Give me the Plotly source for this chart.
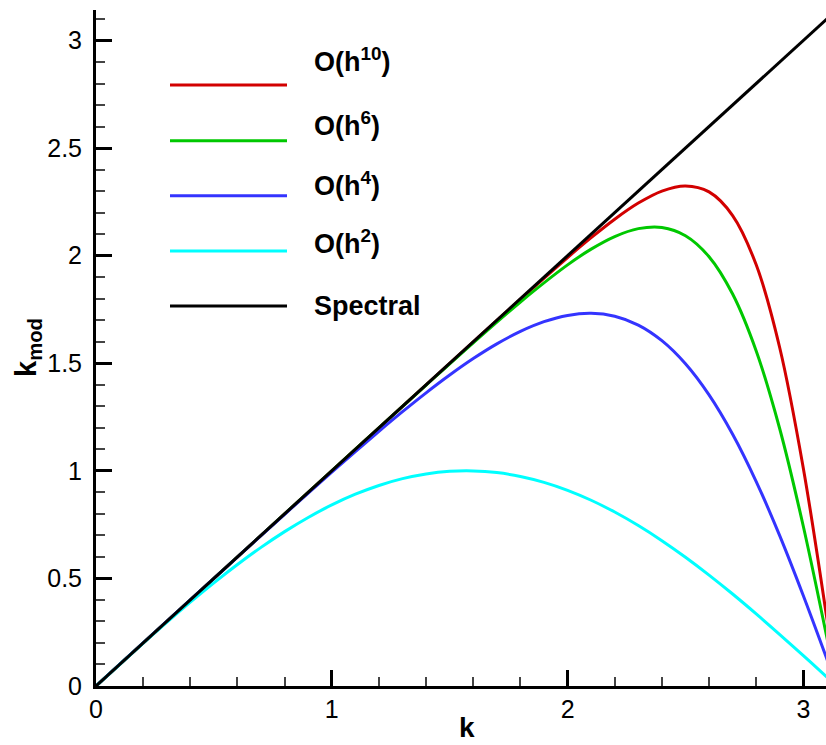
import plotly.graph_objects as go

# ---------------- data ----------------
k_fine = [0.0, 0.1, 0.2, 0.3, 0.4, 0.5, 0.6, 0.7, 0.8, 0.9, 1.0, 1.1, 1.2, 1.3, 1.4,
          1.5, 1.6, 1.7, 1.8, 1.9, 2.0, 2.1, 2.2, 2.3, 2.4, 2.5, 2.6, 2.7, 2.8, 2.9,
          3.0, 3.1, 3.1416]
kmod_h2 = [0.0, 0.0998, 0.1987, 0.2955, 0.3894, 0.4794, 0.5646, 0.6442, 0.7174, 0.7833,
           0.8415, 0.8912, 0.9320, 0.9636, 0.9854, 0.9975, 0.9996, 0.9917, 0.9738, 0.9463,
           0.9093, 0.8632, 0.8085, 0.7457, 0.6755, 0.5985, 0.5155, 0.4274, 0.3350, 0.2392,
           0.1411, 0.0416, 0.0]
kmod_h4 = [0.0, 0.1000, 0.2000, 0.3000, 0.4000, 0.4998, 0.5995, 0.6990, 0.7980, 0.8964,
           0.9937, 1.0897, 1.1836, 1.2748, 1.3624, 1.4451, 1.5216, 1.5899, 1.6480, 1.6931,
           1.7223, 1.7320, 1.7184, 1.6774, 1.6049, 1.4976, 1.3529, 1.1699, 0.9501, 0.6975,
           0.4192, 0.1246, 0.0]

k_hi = [0.0, 0.5, 1.0, 1.2, 1.4, 1.6, 1.8, 2.0, 2.1, 2.2, 2.3, 2.4, 2.5, 2.6, 2.7, 2.8,
        2.9, 3.0, 3.1, 3.1416]
kmod_h6 = [0.0, 0.5, 0.9999, 1.1997, 1.3986, 1.5951, 1.7847, 1.9571, 2.0303, 2.0887,
           2.1255, 2.1310, 2.0928, 1.9952, 1.8216, 1.5570, 1.1944, 0.7411, 0.2240, 0.0]
kmod_h10 = [0.0, 0.5, 1.0, 1.2, 1.3999, 1.5995, 1.7977, 1.9913, 2.0835, 2.1694,
            2.2443, 2.3002, 2.3242, 2.2962, 2.1865, 1.9573, 1.5709, 1.0113, 0.3119, 0.0]

k_spec = [0.0, 3.1416]
kmod_spec = [0.0, 3.1416]

series_names = ["O(h<sup>10</sup>)", "O(h<sup>6</sup>)", "O(h<sup>4</sup>)",
                "O(h<sup>2</sup>)", "Spectral"]
series_colors = ["#d20000", "#00c800", "#3434ff", "#00ffff", "#000000"]
series_x = [k_hi, k_hi, k_fine, k_fine, k_spec]
series_y = [kmod_h10, kmod_h6, kmod_h4, kmod_h2, kmod_spec]

x_ticks = [0, 1, 2, 3]
y_ticks = [0, 0.5, 1, 1.5, 2, 2.5, 3]
y_ticklabels = ["0", "0.5", "1", "1.5", "2", "2.5", "3"]

# ---------------- figure ----------------
W, H = 826, 745
L, R, T, B = 96, 0, 10, 59
PW, PH = W - L - R, H - T - B
FONT = "Liberation Sans, Arial, Helvetica, sans-serif"


def px(xpix):
    """screen pixel x -> paper fraction"""
    return (xpix - L) / PW


def py(ypix):
    """screen pixel y -> paper fraction"""
    return (H - B - ypix) / PH


fig = go.Figure()
for name, col, xs, ys in zip(series_names, series_colors, series_x, series_y):
    fig.add_trace(go.Scatter(
        x=xs, y=ys, mode="lines", name=name,
        line=dict(color=col, width=3, shape="spline" if name != "Spectral" else "linear"),
        showlegend=False, hoverinfo="skip"))

# hand-made legend (lines + labels)
line_y = [85, 140.7, 195.7, 251, 306]
text_y = [60, 124, 184, 242, 306]
shapes = []
annotations = []
for name, col, ly, ty in zip(series_names, series_colors, line_y, text_y):
    shapes.append(dict(type="line", xref="paper", yref="paper",
                       x0=px(170), x1=px(287), y0=py(ly), y1=py(ly),
                       line=dict(color=col, width=3)))
    annotations.append(dict(xref="paper", yref="paper", x=px(312), y=py(ty),
                            xanchor="left", yanchor="middle", showarrow=False,
                            text="<b>" + name + "</b>",
                            font=dict(family=FONT, size=27, color="black")))

# axis titles
annotations.append(dict(xref="paper", yref="paper", x=px(467), y=py(727),
                        xanchor="center", yanchor="middle", showarrow=False, borderpad=0,
                        text="<b>k</b>", font=dict(family=FONT, size=28, color="black")))
annotations.append(dict(xref="paper", yref="paper", x=px(28), y=py(348),
                        xanchor="center", yanchor="middle", showarrow=False, textangle=-90,
                        text="<b>k<sub>mod</sub></b>",
                        font=dict(family=FONT, size=29, color="black")))

axis_common = dict(showgrid=False, zeroline=False, showline=True, linewidth=3,
                   linecolor="black", ticks="inside", ticklen=16, tickwidth=3,
                   tickcolor="black", tickfont=dict(family=FONT, size=25, color="black"),
                   mirror=False)

fig.update_layout(
    width=W, height=H,
    margin=dict(l=L, r=R, t=T, b=B, pad=0),
    paper_bgcolor="white", plot_bgcolor="white",
    showlegend=False,
    shapes=shapes, annotations=annotations,
    xaxis=dict(range=[0, 3.096], tickvals=x_ticks, ticktext=[str(v) for v in x_ticks],
               minor=dict(dtick=0.2, tick0=0, ticks="inside", ticklen=9, tickwidth=1.5,
                          tickcolor="#444"),
               ticklabelstandoff=-1, **axis_common),
    yaxis=dict(range=[0, 3.1416], tickvals=y_ticks, ticktext=y_ticklabels,
               minor=dict(dtick=0.1, tick0=0, ticks="inside", ticklen=9, tickwidth=1.5,
                          tickcolor="#444"),
               ticklabelstandoff=6, **axis_common),
)

fig.write_html(
    "out.html",
    config={"displayModeBar": False},
    post_script="document.body.style.margin='0';"
                "document.documentElement.style.overflow='hidden';"
                "document.body.style.overflow='hidden';")
